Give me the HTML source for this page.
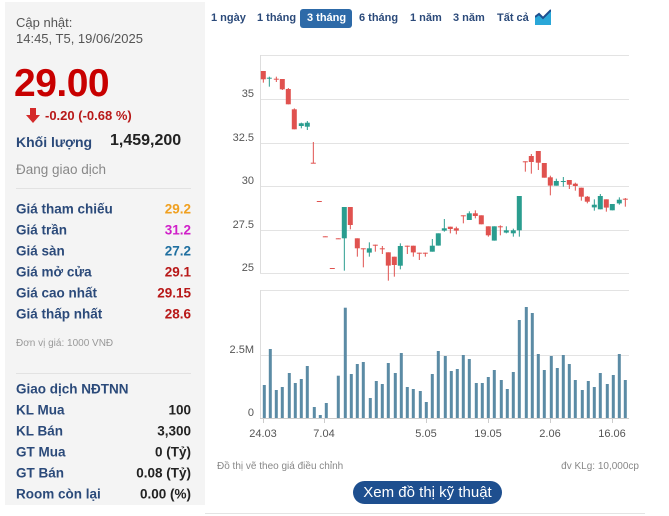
<!DOCTYPE html>
<html><head><meta charset="utf-8"><style>
*{margin:0;padding:0;box-sizing:border-box}
body{width:669px;height:516px;background:#fff;font-family:"Liberation Sans",Arial,sans-serif;position:relative;overflow:hidden}
.a{position:absolute;white-space:nowrap}
.lp{position:absolute;left:5px;top:2px;width:200px;height:503px;background:#f4f4f4}
.lb{position:absolute;left:16px;font-size:13.5px;color:#2b4a7a;font-weight:bold;transform:translateY(-50%)}
.v{position:absolute;right:478px;font-size:13.5px;font-weight:bold;transform:translateY(-50%)}
.tab{position:absolute;top:12px;font-size:11px;font-weight:bold;color:#2b4a7a}
</style></head><body>
<div class="lp"></div>
<div class="a" style="left:16px;top:15px;font-size:13px;color:#555;line-height:16px">Cập nhật:<br>14:45, T5, 19/06/2025</div>
<div class="a" style="left:14px;top:62px;font-size:39px;font-weight:bold;color:#c80000;letter-spacing:-0.5px">29.00</div>
<svg class="a" style="left:26px;top:108px" width="14" height="16"><path d="M4 0h6v7h4L7 15 0 7h4z" fill="#d42a2a"/></svg>
<div class="a" style="left:45px;top:108px;font-size:13px;font-weight:bold;color:#b81818">-0.20 (-0.68 %)</div>
<div class="a" style="left:16px;top:134px;font-size:14px;font-weight:bold;color:#2b4a7a">Khối lượng</div>
<div class="a" style="left:110px;top:132px;font-size:16px;font-weight:bold;color:#222">1,459,200</div>
<div class="a" style="left:16px;top:162px;font-size:13.5px;color:#888">Đang giao dịch</div>
<div class="a" style="left:16px;top:188px;width:175px;height:1px;background:#e2e2e2"></div>
<div class="lb" style="top:209px">Giá tham chiếu</div><div class="v" style="top:209px;color:#f0a020">29.2</div>
<div class="lb" style="top:230px">Giá trần</div><div class="v" style="top:230px;color:#d020c8">31.2</div>
<div class="lb" style="top:251px">Giá sàn</div><div class="v" style="top:251px;color:#1f6fa0">27.2</div>
<div class="lb" style="top:272px">Giá mở cửa</div><div class="v" style="top:272px;color:#b81818">29.1</div>
<div class="lb" style="top:293px">Giá cao nhất</div><div class="v" style="top:293px;color:#b81818">29.15</div>
<div class="lb" style="top:314px">Giá thấp nhất</div><div class="v" style="top:314px;color:#b81818">28.6</div>
<div class="a" style="left:16px;top:338px;font-size:10px;color:#999">Đơn vị giá: 1000 VNĐ</div>
<div class="a" style="left:16px;top:373px;width:175px;height:1px;background:#e2e2e2"></div>
<div class="lb" style="top:389px">Giao dịch NĐTNN</div>
<div class="lb" style="top:410px">KL Mua</div><div class="v" style="top:410px;color:#222">100</div>
<div class="lb" style="top:431px">KL Bán</div><div class="v" style="top:431px;color:#222">3,300</div>
<div class="lb" style="top:452px">GT Mua</div><div class="v" style="top:452px;color:#222">0 (Tỷ)</div>
<div class="lb" style="top:473px">GT Bán</div><div class="v" style="top:473px;color:#222">0.08 (Tỷ)</div>
<div class="lb" style="top:494px">Room còn lại</div><div class="v" style="top:494px;color:#222">0.00 (%)</div>

<div class="tab" style="left:211px">1 ngày</div>
<div class="tab" style="left:257px">1 tháng</div>
<div class="a" style="left:300px;top:9px;width:52px;height:19px;background:#2d6aa8;border-radius:3px"></div>
<div class="tab" style="left:307px;color:#fff">3 tháng</div>
<div class="tab" style="left:359px">6 tháng</div>
<div class="tab" style="left:410px">1 năm</div>
<div class="tab" style="left:453px">3 năm</div>
<div class="tab" style="left:497px">Tất cả</div>
<svg class="a" style="left:535px;top:9px" width="16" height="16"><path d="M0 16V8l4-3 4 4 8-8v15z" fill="#2aa7d8"/><path d="M0 8l4-3 4 4 8-8" stroke="#1e4f8f" stroke-width="2" fill="none"/></svg>

<svg id="c" class="a" style="left:0;top:0" width="669" height="516"></svg>
<div class="a" style="left:217px;top:461px;font-size:10px;color:#888">Đồ thị vẽ theo giá điều chỉnh</div>
<div class="a" style="right:30px;top:461px;font-size:10px;color:#888">đv KLg: 10,000cp</div>
<div class="a" style="left:353px;top:481px;width:149px;height:23px;background:#1e4f8f;border-radius:12px;color:#fff;font-size:15px;text-align:center;line-height:23px">Xem đồ thị kỹ thuật</div>
<div class="a" style="left:205px;top:513px;width:440px;height:1px;background:#e4e4e4"></div>
<script>
var s='';
function L(x1,y1,x2,y2,c,w){s+='<line x1="'+x1+'" y1="'+y1+'" x2="'+x2+'" y2="'+y2+'" stroke="'+c+'" stroke-width="'+(w||1)+'"/>';}
function T(x,y,t){s+='<text x="'+x+'" y="'+y+'" font-size="11" fill="#555" text-anchor="end" font-family="Liberation Sans,sans-serif">'+t+'</text>';}
var gx=260,gr=629;
[55,99,143,186,230,273].forEach(function(y){L(gx,y+.5,gr,y+.5,'#e3e3e3');});
[290,355].forEach(function(y){L(gx,y+.5,gr,y+.5,'#e3e3e3');});
L(gx+.5,55,gx+.5,273,'#ddd');L(gx+.5,290,gx+.5,418,'#ddd');
L(gx,418.5,gr,418.5,'#ccc');
T(254,97,'35');T(254,141,'32.5');T(254,184,'30');T(254,228,'27.5');T(254,271,'25');
T(254,353,'2.5M');T(254,416,'0');
[[263,'24.03'],[324,'7.04'],[426,'5.05'],[488,'19.05'],[550,'2.06'],[612,'16.06']].forEach(function(a){L(a[0]+.5,418,a[0]+.5,423,'#ccc');s+='<text x="'+a[0]+'" y="437" font-size="11" fill="#555" text-anchor="middle" font-family="Liberation Sans,sans-serif">'+a[1]+'</text>';});
var vb=[[193,300],[211,192],[229,315],[247,306],[268,264],[286,294],[304,282],[322,243],[343,366],[361,390],[379,354],[415,272],[436,68],[454,267],[472,237],[490,231],[511,339],[529,288],[547,297],[565,234],[586,264],[604,204],[622,306],[640,312],[661,318],[679,351],[697,267],[715,198],[736,213],[754,258],[772,252],[790,210],[808,222],[829,294],[847,294],[865,276],[883,255],[904,285],[922,312],[940,261],[958,105],[979,66],[997,84],[1015,207],[1033,255],[1054,213],[1072,249],[1090,210],[1108,237],[1126,285],[1147,315],[1165,288],[1183,306],[1201,264],[1222,297],[1240,270],[1258,207],[1276,285]];
vb.forEach(function(b){var x=200+b[0]/3,y=285+b[1]/3;s+='<rect x="'+(x-1.5).toFixed(1)+'" y="'+y.toFixed(1)+'" width="3" height="'+(418-y).toFixed(1)+'" fill="#5b8ba5"/>';});
var R='#e0524f',G='#2a9d8f';
var cd=[[190,213,238,213,248,R],[208,233,236,230,260,G],[229,236,237,230,246,R],[247,237,268,237,270,R],[265,267,313,264,313,R],[283,328,388,325,388,R],[304,370,378,368,385,G],[322,368,380,363,390,G],[340,488,490,426,490,R],[358,603,604,603,604,R],[376,709,710,709,710,R],[397,804,805,804,805,R],[415,715,716,715,716,R],[433,621,715,621,812,G],[451,621,675,621,688,R],[472,715,745,715,770,R],[490,745,746,745,802,R],[508,745,758,727,770,G],[526,734,736,734,755,R],[547,745,747,738,762,R],[565,757,797,757,842,R],[583,770,795,770,830,R],[601,738,797,730,808,G],[622,737,739,737,762,R],[640,737,757,737,770,R],[658,758,760,758,780,R],[676,758,760,758,770,R],[697,737,755,717,755,G],[715,700,737,700,737,G],[733,685,692,657,695,G],[751,680,687,680,700,R],[769,685,692,680,703,R],[790,646,648,646,670,R],[808,640,660,634,660,G],[826,640,648,631,655,R],[844,646,673,646,673,R],[865,679,706,679,710,R],[883,679,722,679,722,G],[901,679,681,676,706,R],[919,691,698,679,700,G],[940,691,700,686,710,G],[958,588,691,588,710,G],[976,484,486,484,515,R],[994,468,486,462,521,R],[1015,453,488,453,510,R],[1033,489,533,489,533,R],[1051,532,557,527,586,R],[1069,543,557,536,557,G],[1090,543,545,531,560,G],[1108,540,554,540,567,R],[1126,551,558,548,572,R],[1144,563,590,563,602,R],[1162,590,605,588,610,R],[1183,614,622,598,632,G],[1201,588,628,582,628,G],[1219,598,623,598,635,R],[1237,612,631,612,631,G],[1258,599,610,592,614,G],[1276,596,598,594,620,R]];
cd.forEach(function(c){var x=200+c[0]/3,bt=c[1]/3,bb=c[2]/3,wt=c[3]/3,wb=c[4]/3;L(x,wt,x,wb,c[5],1);s+='<rect x="'+(x-2.5).toFixed(1)+'" y="'+bt.toFixed(1)+'" width="5" height="'+Math.max(1,bb-bt).toFixed(1)+'" fill="'+c[5]+'"/>';});
document.getElementById('c').innerHTML=s;
</script>
</body></html>
